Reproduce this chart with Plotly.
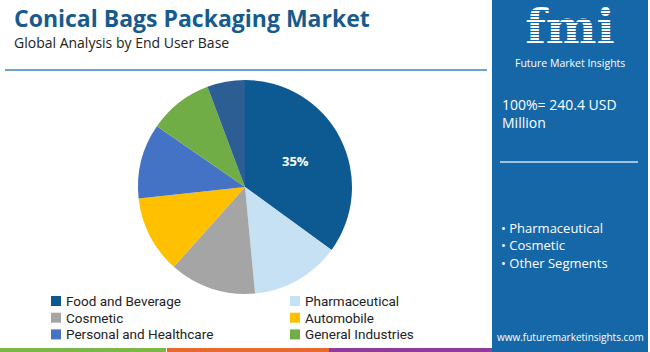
import plotly.graph_objects as go

W, H = 650, 352

# Data
categories = ["Food and Beverage", "Pharmaceutical", "Cosmetic", "Automobile",
              "Personal and Healthcare", "General Industries", "Others"]
shares = [35.0, 13.5, 13.1, 11.7, 11.3, 9.7, 5.7]
slice_labels = ["35%", "", "", "", "", "", ""]
colors = ["#0d5a93", "#c6e0f4", "#a5a5a5", "#ffc000", "#4472c4", "#70ad47", "#2c5e94"]
legend_items = categories[:6]
panel_bullets = ["Pharmaceutical", "Cosmetic", "Other Segments"]
total_text = "100%= 240.4 USD<br>Million"

def px(x):
    return x / W

def py(y):
    return 1 - y / H

fig = go.Figure()
fig.add_trace(go.Pie(
    labels=categories, values=shares, text=slice_labels,
    textinfo="text", textposition="inside", insidetextorientation="horizontal",
    textfont=dict(family="Open Sans", size=13, color="white", weight="bold"),
    marker=dict(colors=colors, line=dict(width=0)),
    sort=False, direction="clockwise", rotation=0,
    domain=dict(x=[px(138), px(352)], y=[py(294), py(80)]),
    showlegend=False, hoverinfo="label+percent",
))

# Logo letters as a text trace on a hidden pixel axis (so stripes can be drawn over them)
fig.add_trace(go.Scatter(x=[570], y=[32], mode="text", text=["<b>fmi</b>"], textposition="middle center",
                         textfont=dict(family="DejaVu Serif", size=48, color="white"),
                         showlegend=False, hoverinfo="skip"))

shapes = []
annotations = []

# Title/subtitle
annotations.append(dict(x=px(12), y=py(18), xref="paper", yref="paper", xanchor="left", yanchor="middle",
                        text="<b>Conical Bags Packaging Market</b>", showarrow=False,
                        font=dict(family="Open Sans", size=23, color="#175b8e")))
annotations.append(dict(x=px(12), y=py(42), xref="paper", yref="paper", xanchor="left", yanchor="middle",
                        text="Global Analysis by End User Base", showarrow=False,
                        font=dict(family="Open Sans", size=14, color="#222222")))
shapes.append(dict(type="line", xref="paper", yref="paper", x0=px(5), x1=px(487), y0=py(70), y1=py(70),
                   line=dict(color="#3b86c2", width=1.5)))

# Legend (manual, two columns)
for i, name in enumerate(legend_items):
    col = i % 2
    row = i // 2
    x0 = 51 if col == 0 else 290
    yc = 301 + row * 16.7
    shapes.append(dict(type="rect", xref="paper", yref="paper", x0=px(x0), x1=px(x0 + 10),
                       y0=py(yc + 5), y1=py(yc - 5), fillcolor=colors[i], line=dict(width=0)))
    annotations.append(dict(x=px(x0 + 13), y=py(yc), xref="paper", yref="paper", xanchor="left",
                            yanchor="middle", text=name, showarrow=False,
                            font=dict(family="Roboto", size=13.5, color="#222222")))

# Right panel
shapes.append(dict(type="rect", xref="paper", yref="paper", x0=px(492), x1=px(648), y0=py(352), y1=py(0),
                   fillcolor="#1667a7", line=dict(width=0), layer="below"))
for k in range(14):
    yy = 10.5 + k * 3
    shapes.append(dict(type="line", xref="paper", yref="paper", x0=px(505), x1=px(635), y0=py(yy), y1=py(yy),
                       line=dict(color="#1667a7", width=1), layer="above"))
annotations.append(dict(x=px(570), y=py(63), xref="paper", yref="paper", xanchor="center", yanchor="middle",
                        text="Future Market Insights", showarrow=False,
                        font=dict(family="Open Sans", size=10.5, color="white")))
annotations.append(dict(x=px(500), y=py(113), xref="paper", yref="paper", xanchor="left", yanchor="middle",
                        text=total_text, showarrow=False, align="left",
                        font=dict(family="Open Sans", size=14, color="white")))
shapes.append(dict(type="line", xref="paper", yref="paper", x0=px(500), x1=px(638), y0=py(162), y1=py(162),
                   line=dict(color="#cfe2f3", width=1.5)))
for i, b in enumerate(panel_bullets):
    annotations.append(dict(x=px(499), y=py(228 + i * 17.5), xref="paper", yref="paper", xanchor="left",
                            yanchor="middle", text="\u2022 " + b, showarrow=False,
                            font=dict(family="Open Sans", size=13, color="white")))
annotations.append(dict(x=px(570), y=py(337), xref="paper", yref="paper", xanchor="center", yanchor="middle",
                        text="www.futuremarketinsights.com", showarrow=False,
                        font=dict(family="Open Sans", size=10, color="white")))

# Bottom stripes
for (a, b, c) in [(0, 166, "#7ab648"), (167, 329, "#e8692e"), (329, 492, "#8e3b9c")]:
    shapes.append(dict(type="rect", xref="paper", yref="paper", x0=px(a), x1=px(b), y0=py(352), y1=py(348),
                       fillcolor=c, line=dict(width=0)))

fig.update_layout(width=W, height=H, margin=dict(l=0, r=0, t=0, b=0),
                  paper_bgcolor="white", plot_bgcolor="rgba(0,0,0,0)",
                  xaxis=dict(range=[0, W], domain=[0, 1], visible=False, fixedrange=True),
                  yaxis=dict(range=[H, 0], domain=[0, 1], visible=False, fixedrange=True),
                  shapes=shapes, annotations=annotations, showlegend=False)
fig.write_html("out.html")
